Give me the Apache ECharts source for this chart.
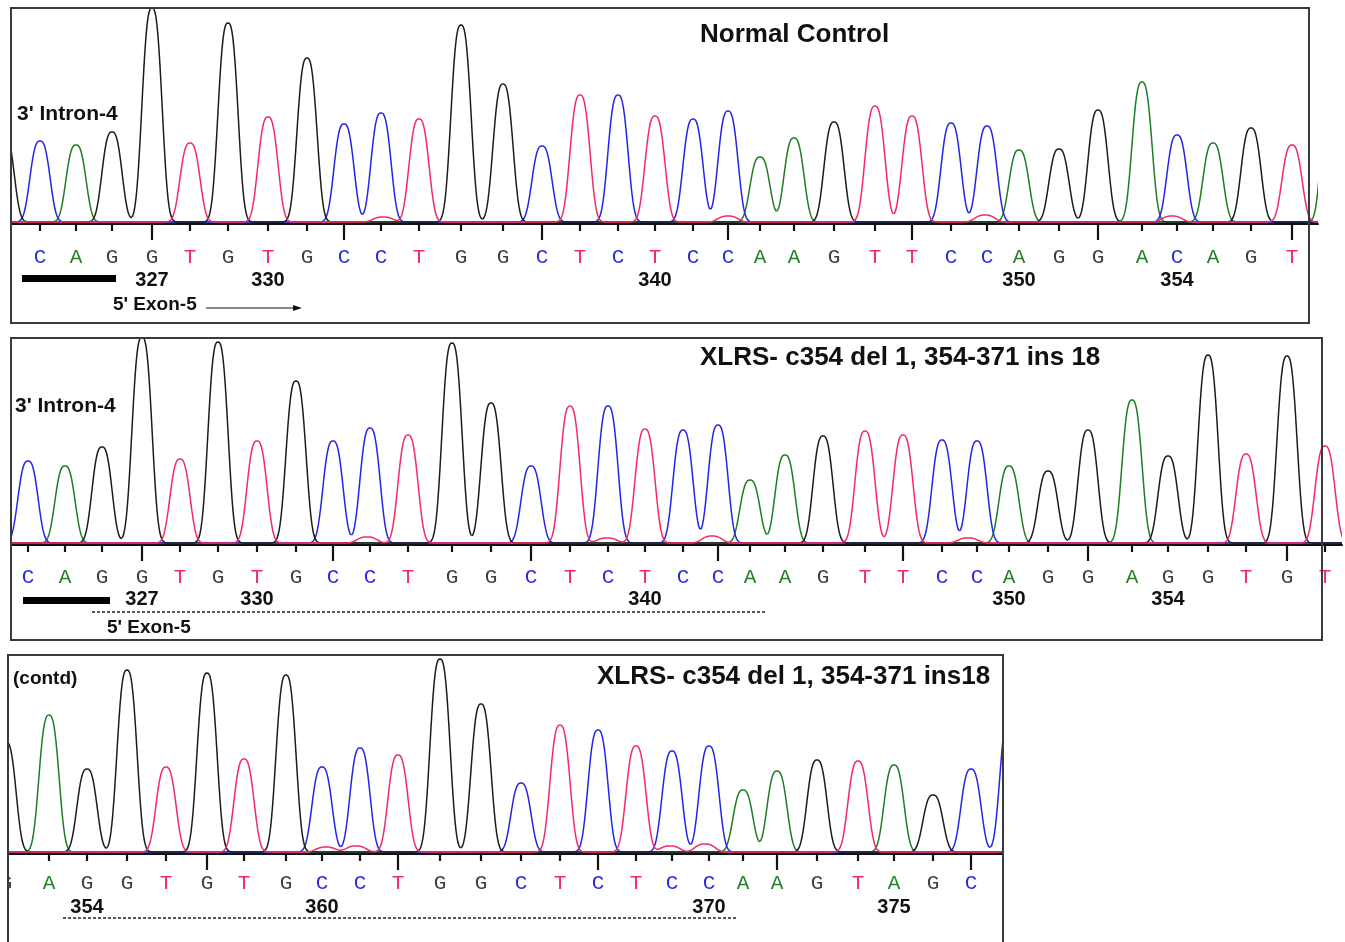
<!DOCTYPE html>
<html>
<head>
    <meta charset="utf-8">
    <title>XLRS chromatogram</title>
    <script src="https://cdn.jsdelivr.net/npm/echarts@6.0.0/dist/echarts.min.js"></script>
    <style>html,body{margin:0;padding:0;background:#fff;}</style>
</head>
<body>
<div id="main" style="width:1345px;height:942px;"></div>
<script type="text/javascript">

// ---- panel 1 : Normal Control ----
var bases1 = 'CAGGTGTGCCTGGCTCTCCAAGTTCCAGGACAGT';
var peakX1 = [40, 76, 112, 152, 190, 228, 268, 307, 344, 381, 419,
              461, 503, 542, 580, 618, 655, 693, 728, 760, 794, 834, 875,
              912, 951, 987, 1019, 1059, 1098, 1142, 1177, 1213, 1251, 1292];
var peakH1 = [81, 77, 90, 214, 79, 199, 105, 164, 98, 109, 103,
              197, 138, 76, 127, 127, 106, 103, 111, 65, 84, 100, 116,
              106, 99, 96, 72, 73, 112, 140, 87, 79, 94, 77];
// peaks cut by the frame or too small to be called: [base, scan, height]
var extra1 = [['G', 4, 90], ['A', 1332, 150], ['T', 383, 5], ['T', 728, 6], ['T', 985, 7], ['T', 1172, 6]];
var numIdx1 = [3, 6, 16, 26, 30];
var numText1 = ['327', '330', '340', '350', '354'];

// ---- panel 2 : XLRS patient ----
var bases2 = 'CAGGTGTGCCTGGCTCTCCAAGTTCCAGGAGGTGT';
var peakX2 = [28, 65, 102, 142, 180, 218, 257, 296, 333, 370, 408,
              452, 491, 531, 570, 608, 645, 683, 718, 750, 785, 823, 865,
              903, 942, 977, 1009, 1048, 1088, 1132, 1168, 1208, 1246, 1287, 1325];
var peakH2 = [82, 77, 96, 206, 84, 201, 102, 162, 102, 115, 108,
              200, 140, 77, 137, 137, 114, 113, 118, 63, 88, 107, 112,
              108, 103, 102, 77, 72, 113, 143, 87, 188, 89, 187, 97];
var extra2 = [['T', 367, 6], ['T', 607, 5], ['T', 712, 7], ['T', 968, 5]];
var numIdx2 = [3, 6, 16, 26, 30];
var numText2 = ['327', '330', '340', '350', '354'];

// ---- panel 3 : XLRS patient (contd) ----
var bases3 = 'GAGGTGTGCCTGGCTCTCCAAGTAGCC';
var peakX3 = [6, 49, 87, 127, 166, 207, 244, 286, 322, 360, 398, 440, 481,
              521, 560, 598, 636, 672, 709, 743, 777, 817, 858, 894, 933, 971, 1010];
var peakH3 = [110, 137, 83, 182, 85, 179, 93, 177, 85, 104, 97, 193, 148,
              69, 127, 122, 106, 101, 106, 62, 81, 92, 91, 87, 57, 83, 140];
var extra3 = [['T', 326, 5], ['T', 356, 6], ['T', 670, 6], ['T', 705, 8]];
var numIdx3 = [2, 8, 18, 23];
var numText3 = ['354', '360', '370', '375'];

var TRACE = {A: '#1f7d23', C: '#2525e8', G: '#1c1c1c', T: '#f22a68'};
var LETTER = {A: '#23822a', C: '#2a2ae6', G: '#404040', T: '#f2286a'};
var HALF = 10.6;   // half width at half height, scan units
var POW = 2.8;     // peak sharpness
var LIFT = 2;      // traces sit a little above the axis line

var panels = [
    {bases: bases1, x: peakX1, h: peakH1, extra: extra1, numIdx: numIdx1, numText: numText1, major: 3,
     grid: {left: 12, top: 8, width: 1306, height: 315}, xMin: 12, xMax: 1318, yMin: -99, yMax: 216,
     letterY: -33, numY: -56},
    {bases: bases2, x: peakX2, h: peakH2, extra: extra2, numIdx: numIdx2, numText: numText2, major: 3,
     grid: {left: 12, top: 338, width: 1330, height: 302}, xMin: 12, xMax: 1342, yMin: -95, yMax: 207,
     letterY: -32, numY: -54},
    {bases: bases3, x: peakX3, h: peakH3, extra: extra3, numIdx: numIdx3, numText: numText3, major: 0,
     grid: {left: 9, top: 655, width: 994, height: 287}, xMin: 9, xMax: 1003, yMin: -88, yMax: 199,
     letterY: -29, numY: -53}
];

function peaksOf(p, ch) {
    var list = [];
    for (var i = 0; i < p.bases.length; i++) {
        if (p.bases[i] === ch) list.push([p.x[i], p.h[i]]);
    }
    p.extra.forEach(function (e) { if (e[0] === ch) list.push([e[1], e[2]]); });
    list.sort(function (a, b) { return a[0] - b[0]; });
    return list;
}

function curve(pk, x) {
    var s = 0;
    for (var j = 0; j < pk.length; j++) {
        var d = Math.abs(x - pk[j][0]);
        if (d < 45) s += pk[j][1] * Math.exp(-Math.LN2 * Math.pow(d / HALF, POW));
    }
    return s;
}

// one continuous trace per channel, split into pieces around each peak
function traceSeries(p, gi, ch) {
    var pk = peaksOf(p, ch);
    var data = pk.map(function (d, i) {
        var lo = i === 0 ? p.xMin - 30 : (pk[i - 1][0] + d[0]) / 2;
        var hi = i === pk.length - 1 ? p.xMax + 30 : (d[0] + pk[i + 1][0]) / 2;
        return [d[0], d[1], lo, hi];
    });
    return {
        type: 'custom', xAxisIndex: gi, yAxisIndex: gi, clip: true, silent: true,
        data: data, encode: {x: 0, y: 1}, z: 2,
        renderItem: function (params, api) {
            var lo = api.value(2), hi = api.value(3);
            var pts = [];
            for (var x = lo; x < hi; x += 1) pts.push(api.coord([x, LIFT + curve(pk, x)]));
            pts.push(api.coord([hi, LIFT + curve(pk, hi)]));
            return {type: 'polyline', shape: {points: pts},
                    style: {stroke: TRACE[ch], lineWidth: 1.5, fill: null}};
        }
    };
}

// base calls: tick, letter and position number
function callSeries(p, gi) {
    var data = p.x.map(function (x, i) { return [x, 0, i]; });
    return {
        type: 'custom', xAxisIndex: gi, yAxisIndex: gi, clip: true, silent: true,
        data: data, encode: {x: 0, y: 1}, z: 3,
        renderItem: function (params, api) {
            var i = api.value(2), x = api.value(0);
            var b = p.bases.charAt(i);
            var pt = api.coord([x, 0]);
            var major = ((i - p.major) % 5 + 5) % 5 === 0;
            var kids = [
                {type: 'line', shape: {x1: pt[0], y1: pt[1], x2: pt[0], y2: pt[1] + (major ? 16 : 7)},
                 style: {stroke: '#111', lineWidth: 2.2}},
                {type: 'text', x: pt[0], y: api.coord([x, p.letterY])[1],
                 style: {text: b, fill: LETTER[b], font: '21px "Liberation Mono", monospace',
                         align: 'center', verticalAlign: 'middle'}}
            ];
            var k = p.numIdx.indexOf(i);
            if (k >= 0) {
                kids.push({type: 'text', x: pt[0], y: api.coord([x, p.numY])[1],
                    style: {text: p.numText[k], fill: '#111', font: 'bold 20px "Liberation Sans", Arial',
                            align: 'center', verticalAlign: 'middle'}});
            }
            return {type: 'group', children: kids};
        }
    };
}

var grids = [], xAxes = [], yAxes = [], series = [];
panels.forEach(function (p, gi) {
    grids.push(p.grid);
    xAxes.push({
        type: 'value', gridIndex: gi, min: p.xMin, max: p.xMax,
        axisLine: {onZero: true, lineStyle: {color: '#111', width: 2}},
        axisTick: {show: false}, axisLabel: {show: false}, splitLine: {show: false}
    });
    yAxes.push({type: 'value', gridIndex: gi, min: p.yMin, max: p.yMax, show: false, splitLine: {show: false}});
    ['A', 'C', 'G', 'T'].forEach(function (ch) { series.push(traceSeries(p, gi, ch)); });
    series.push(callSeries(p, gi));
});

function bold(s) { return 'bold ' + s + 'px "Liberation Sans", Arial, sans-serif'; }
function label(x, y, text, size) {
    return {type: 'text', x: x, y: y, z: 20,
            style: {text: text, fill: '#111', font: bold(size), verticalAlign: 'middle'}};
}
function box(x, y, w, h) {
    return {type: 'rect', z: 20, shape: {x: x, y: y, width: w, height: h},
            style: {fill: 'transparent', stroke: '#3a3a3a', lineWidth: 2}};
}

var myChart = echarts.init(document.getElementById('main'), null, {renderer: 'canvas'});
myChart.setOption({
    backgroundColor: '#fff',
    animation: false,
    grid: grids,
    xAxis: xAxes,
    yAxis: yAxes,
    series: series,
    graphic: [
        box(11, 8, 1298, 315),
        box(11, 338, 1311, 302),
        box(8, 655, 995, 300),
        label(700, 35, 'Normal Control', 26),
        label(700, 358, 'XLRS- c354 del 1, 354-371 ins 18', 26),
        label(597, 677, 'XLRS- c354 del 1, 354-371 ins18', 26),
        label(17, 114, "3' Intron-4", 21),
        label(15, 406, "3' Intron-4", 21),
        label(13, 679, '(contd)', 19),
        label(113, 305, "5' Exon-5", 19),
        label(107, 628, "5' Exon-5", 19),
        // intron bars
        {type: 'rect', z: 20, shape: {x: 22, y: 275, width: 94, height: 7}, style: {fill: '#000'}},
        {type: 'rect', z: 20, shape: {x: 23, y: 597, width: 87, height: 7}, style: {fill: '#000'}},
        // exon arrow
        {type: 'line', z: 20, shape: {x1: 206, y1: 308, x2: 296, y2: 308}, style: {stroke: '#111', lineWidth: 1}},
        {type: 'polygon', z: 20, shape: {points: [[293, 305], [302, 308], [293, 311]]}, style: {fill: '#111'}},
        // inserted segment
        {type: 'line', z: 20, shape: {x1: 92, y1: 612, x2: 765, y2: 612},
         style: {stroke: '#222', lineWidth: 1.5, lineDash: [3, 2]}},
        {type: 'line', z: 20, shape: {x1: 63, y1: 918, x2: 738, y2: 918},
         style: {stroke: '#222', lineWidth: 1.5, lineDash: [3, 2]}}
    ]
});

</script>
</body>
</html>
